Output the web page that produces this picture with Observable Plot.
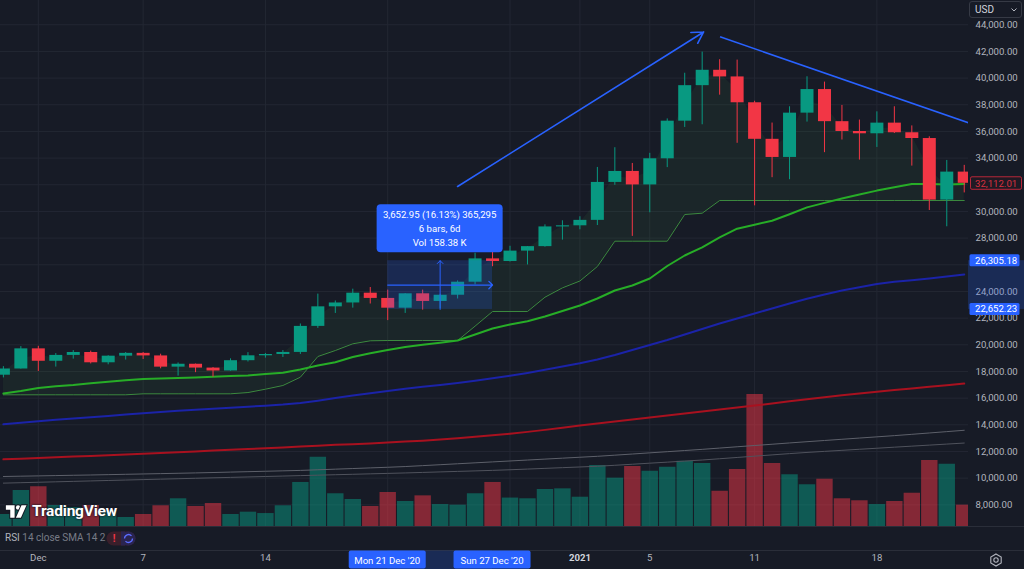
<!DOCTYPE html>
<html><head><meta charset="utf-8">
<script src="https://cdn.jsdelivr.net/npm/d3@7"></script>
<script src="https://cdn.jsdelivr.net/npm/@observablehq/plot@0.6"></script>
<style>
html,body{margin:0;padding:0;background:#171b26;}
#chart{position:relative;width:1024px;height:569px;overflow:hidden;background:#171b26;font-family:Roboto,"Noto Sans",sans-serif;}
.ov{position:absolute;}
</style></head>
<body><div id="chart"></div>
<script>
const FONT = "Roboto, 'Noto Sans', sans-serif";
const BG = "#171b26", GRID = "#232733", AXIS = "#b2b5be";
const UP = "#089981", DOWN = "#f23645";

const dates = ["2020-11-29","2020-11-30","2020-12-01","2020-12-02","2020-12-03","2020-12-04","2020-12-05","2020-12-06","2020-12-07","2020-12-08","2020-12-09","2020-12-10","2020-12-11","2020-12-12","2020-12-13","2020-12-14","2020-12-15","2020-12-16","2020-12-17","2020-12-18","2020-12-19","2020-12-20","2020-12-21","2020-12-22","2020-12-23","2020-12-24","2020-12-25","2020-12-26","2020-12-27","2020-12-28","2020-12-29","2020-12-30","2020-12-31","2021-01-01","2021-01-02","2021-01-03","2021-01-04","2021-01-05","2021-01-06","2021-01-07","2021-01-08","2021-01-09","2021-01-10","2021-01-11","2021-01-12","2021-01-13","2021-01-14","2021-01-15","2021-01-16","2021-01-17","2021-01-18","2021-01-19","2021-01-20","2021-01-21","2021-01-22","2021-01-23"];
const opens = [17719,18185,19696,18765,19205,19422,18651,19147,19359,19166,18324,18541,18254,18036,18808,19175,19274,19427,21380,22847,23137,23870,23478,22745,23824,23250,23716,24694,26443,26246,27025,27362,28840,28923,29331,32176,33000,31989,33950,36769,39433,40586,40088,38150,35410,34049,37372,39141,36733,35995,35824,36623,35901,35468,30852,32950];
const highs = [18360,19863,19888,19342,19566,19527,19177,19420,19420,19294,18639,18557,18292,18948,19411,19349,19570,21560,23800,23285,24171,24295,24102,23838,24100,23789,24789,26867,28422,27389,27370,28995,29300,29600,33300,34778,33600,34360,36939,40365,41950,41380,41350,38264,36628,37850,40100,39700,37950,36852,37469,37850,36415,35600,33826,33456];
const lows = [17517,18180,18001,18330,18925,18565,18500,18857,18902,18200,17650,17911,17572,18020,18711,19000,19050,19278,21230,22350,22750,23060,21815,22353,22600,22703,23435,24500,25856,26207,25987,27320,27850,28624,28946,31962,28130,29900,33288,36300,36500,38720,35111,30420,32531,32380,36701,34408,35357,33850,34800,35844,33400,30071,28850,31390];
const closes = [18185,19696,18765,19205,19422,18651,19147,19359,19166,18324,18541,18254,18036,18808,19175,19274,19427,21380,22847,23137,23870,23478,22745,23824,23250,23716,24694,26443,26246,27025,27362,28840,28923,29331,32176,33000,31989,33950,36769,39433,40586,40088,38150,35410,34049,37372,39141,36733,35995,35824,36623,35901,35468,30852,32950,32112.01];
const volumesK = [11.5,34.4,38.0,20.1,18.2,20.1,15.3,8.6,11.5,19.8,26.5,19.1,22.0,11.5,13.7,12.4,19.8,42.1,66.3,31.3,25.8,19.1,32.5,23.9,29.3,21.0,20.4,31.3,42.1,27.2,26.5,35.4,36.0,28.0,58.3,46.2,57.4,52.9,56.7,62.4,60.2,33.7,54.5,126.2,60.2,49.4,39.9,45.2,26.5,24.6,21.0,23.9,31.8,63.1,59.6,20.4];
const maGreen = [16348,16535,16760,16895,16985,17113,17225,17338,17435,17473,17510,17548,17600,17660,17698,17810,17908,18148,18448,18688,19085,19370,19610,19835,20000,20150,20322,20772,21222,21522,21770,22122,22535,22947,23472,24072,24447,24972,25909,26697,27300,28050,28707,29006,29300,29794,30304,30641,30971,31271,31563,31811,32051,32058,32021,32058];
const maBlue = [14038,14150,14263,14375,14473,14563,14660,14773,14870,14960,15050,15125,15208,15283,15358,15433,15515,15635,15808,16010,16198,16370,16535,16708,16850,16985,17128,17300,17488,17683,17893,18125,18373,18613,18898,19235,19610,19985,20360,20772,21185,21597,21972,22347,22722,23097,23457,23772,24072,24312,24560,24725,24845,24972,25122,25272];
const maRed = [11410,11460,11515,11565,11620,11670,11725,11780,11835,11890,11945,12005,12065,12125,12185,12245,12305,12370,12435,12500,12550,12600,12670,12740,12810,12900,13000,13100,13210,13330,13470,13620,13780,13940,14090,14240,14390,14540,14690,14840,14990,15140,15290,15440,15600,15760,15920,16070,16210,16350,16480,16610,16730,16850,16970,17090];
const maGreyUpper = [10124,10147,10169,10192,10215,10237,10262,10288,10314,10340,10366,10393,10422,10454,10485,10517,10548,10580,10627,10674,10721,10768,10815,10869,10939,11008,11078,11148,11218,11288,11358,11428,11498,11568,11638,11722,11809,11897,11984,12071,12159,12255,12353,12448,12543,12640,12734,12824,12915,13006,13097,13188,13286,13387,13488,13590];
const maGreyLower = [9626,9659,9692,9725,9758,9791,9825,9858,9891,9924,9957,9991,10024,10057,10090,10124,10157,10190,10223,10256,10289,10323,10356,10390,10429,10467,10506,10544,10583,10629,10681,10733,10786,10838,10891,10964,11043,11122,11200,11279,11359,11455,11551,11648,11743,11840,11929,12008,12086,12165,12243,12322,12400,12477,12554,12632];
const superTrend = [16250,16250,16250,16250,16250,16250,16250,16250,16325,16325,16325,16325,16325,16325,16420,16670,16948,17570,19122,19572,20075,20300,20322,20322,20322,20322,20322,21400,22497,22497,22497,23570,24270,24785,25872,27769,27769,27769,27769,29771,29869,30821,30821,30821,30821,30821,30821,30821,30821,30821,30821,30821,30821,30821,30821,30821];

const priceTicks = [8000,10000,12000,14000,16000,18000,20000,22000,24000,26000,28000,30000,32000,34000,36000,38000,40000,42000,44000];
// 26,000 and 32,000 labels are hidden under the marker labels in the reference
const priceLabelTicks = [8000,10000,12000,14000,16000,18000,20000,22000,24000,28000,30000,34000,36000,38000,40000,42000,44000];
const gridDates = ["2020-12-01","2020-12-07","2020-12-14","2020-12-21","2020-12-28","2021-01-01","2021-01-05","2021-01-11","2021-01-18"];
const xTickDates = ["2020-12-01","2020-12-07","2020-12-14","2021-01-05","2021-01-11","2021-01-18"];
const xTickLabels = ["Dec","7","14","5","11","18"];
const yearTick = ["2021-01-01"], yearLabel = "2021";

const measureDates = ["2020-12-21","2020-12-27"];
const measurePrices = [22652.23, 26305.18];
const measureMid = "2020-12-24";
const measureText = ["3,652.95 (16.13%) 365,295", "6 bars, 6d", "Vol 158.38 K"];
const measureDateLabels = ["Mon 21 Dec '20", "Sun 27 Dec '20"];
const lastPrice = 32112.01;
const trendArrow = [{x1:"2020-12-25T00:00Z", y1:31871, x2:"2021-01-08T02:00Z", y2:43460}];
const trendLine = [{x1:"2021-01-09T00:30Z", y1:43100, x2:"2021-01-24T00:00Z", y2:36300}];

const rows = dates.map((d, i) => ({date: new Date(d), open: opens[i], high: highs[i], low: lows[i], close: closes[i],
  vol: volumesK[i], g: maGreen[i], b: maBlue[i], r: maRed[i], gu: maGreyUpper[i], gl: maGreyLower[i], st: superTrend[i]}));
const isUp = d => d.close >= d.open;
const fmt = d3.format(",.2f");

const JAN1 = Date.UTC(2021, 0, 1), DAY = 864e5;
const xOpt = {type: "utc", domain: [new Date(JAN1 - 33.165 * DAY), new Date(JAN1 + 22.244 * DAY)], axis: null};
const yOpt = {type: "linear", domain: [6374, 45819], axis: null};
const base = {width: 1024, height: 569, marginTop: 0, marginRight: 56, marginBottom: 43, marginLeft: 0};

const chart = document.getElementById("chart");
function addLayer(svg) { svg.style.position = "absolute"; svg.style.left = "0"; svg.style.top = "0"; chart.appendChild(svg); }

// layer 1: background grid
addLayer(Plot.plot({...base, style: {background: BG}, x: xOpt, y: yOpt, marks: [
  Plot.gridY(priceTicks, {stroke: GRID, strokeOpacity: 1}),
  Plot.gridX(gridDates.map(d => new Date(d)), {stroke: GRID, strokeOpacity: 1})
]}));

// layer 2: volume
addLayer(Plot.plot({...base, style: {background: "transparent"}, x: xOpt,
  y: {type: "linear", domain: [0, 200], range: [526, 316.8], axis: null},
  marks: [
    Plot.ruleX(rows, {x: "date", y1: 0, y2: "vol", stroke: d => isUp(d) ? "rgba(8,153,129,0.5)" : "rgba(242,54,69,0.5)", strokeWidth: 16.4, clip: true})
  ]}));

// overlay render function for labels/boxes
function overlay(index, scales, values, dims) {
  const sx = scales.x, sy = scales.y;
  const W = dims.width, H = dims.height, fb = H - dims.marginBottom, fr = W - dims.marginRight;
  const g = d3.create("svg:g").attr("font-family", FONT).attr("text-anchor", "start");
  [fb, fb + 24].forEach(yy => g.append("line").attr("x1", 0).attr("x2", W).attr("y1", yy + 0.5).attr("y2", yy + 0.5).attr("stroke", "#2a2e39"));
  // measure info box
  const mx = sx(new Date(measureMid)), mTop = sy(measurePrices[1]);
  const bw = 126, bh = 48, by = mTop - 8 - bh;
  g.append("rect").attr("x", mx - bw / 2).attr("y", by).attr("width", bw).attr("height", bh).attr("rx", 4).attr("fill", "#2962ff");
  measureText.forEach((t, i) => g.append("text").attr("x", mx).attr("y", by + 10.5 + 14 * i).attr("text-anchor", "middle")
    .attr("dominant-baseline", "central").attr("fill", "#ffffff").attr("font-size", 9.6).text(t));
  // axis band + labels
  const yA = sy(measurePrices[1]), yB = sy(measurePrices[0]);
  g.append("rect").attr("x", fr).attr("y", yA).attr("width", W - fr).attr("height", yB - yA).attr("fill", "rgba(41,98,255,0.22)");
  measurePrices.forEach(p => {
    const yy = sy(p);
    g.append("rect").attr("x", fr + 1.5).attr("y", yy - 6).attr("width", 50).attr("height", 12).attr("rx", 1.5).attr("fill", "#2962ff");
    g.append("text").attr("x", fr + 7).attr("y", yy).attr("text-anchor", "start").attr("dominant-baseline", "central").attr("fill", "#fff").attr("font-size", 9.6).text(fmt(p));
  });
  const yl = sy(lastPrice);
  g.append("rect").attr("x", fr + 2.5).attr("y", yl - 6).attr("width", 51).attr("height", 12.5).attr("rx", 1.5).attr("fill", "#1f1a24").attr("stroke", "#b8283a");
  g.append("text").attr("x", fr + 7).attr("y", yl + 0.3).attr("text-anchor", "start").attr("dominant-baseline", "central").attr("fill", "#d8303f").attr("font-size", 9.6).text(fmt(lastPrice));
  // date band + boxes
  const xa = sx(new Date(measureDates[0])), xb = sx(new Date(measureDates[1]));
  g.append("rect").attr("x", xa).attr("y", fb + 24.5).attr("width", xb - xa).attr("height", H - fb - 24).attr("fill", "rgba(41,98,255,0.22)");
  measureDates.forEach((d, i) => {
    const cx = sx(new Date(d)), w = 77;
    g.append("rect").attr("x", cx - w / 2).attr("y", fb + 24.5).attr("width", w).attr("height", 18).attr("rx", 2).attr("fill", "#2962ff");
    g.append("text").attr("x", cx).attr("y", fb + 34).attr("text-anchor", "middle").attr("dominant-baseline", "central").attr("fill", "#fff").attr("font-size", 9.6).text(measureDateLabels[i]);
  });
  return g.node();
}

// layer 3: price
const mid = (measurePrices[0] + measurePrices[1]) / 2;
addLayer(Plot.plot({...base, style: {background: "transparent", fontFamily: FONT}, x: xOpt, y: yOpt, marks: [
  Plot.areaY(rows, {x: "date", y1: "st", y2: d => (d.open + d.close) / 2, fill: "#4caf50", fillOpacity: 0.08, clip: true}),
  Plot.lineY(rows, {x: "date", y: "gl", stroke: "#4f525c", strokeWidth: 1, clip: true}),
  Plot.lineY(rows, {x: "date", y: "gu", stroke: "#5d606a", strokeWidth: 1, clip: true}),
  Plot.lineY(rows, {x: "date", y: "r", stroke: "#a8111f", strokeWidth: 2, clip: true}),
  Plot.lineY(rows, {x: "date", y: "b", stroke: "#1b23a8", strokeWidth: 2, clip: true}),
  Plot.lineY(rows, {x: "date", y: "st", stroke: "#3c8a3f", strokeWidth: 1, clip: true}),
  Plot.lineY(rows, {x: "date", y: "g", stroke: "#27ad27", strokeWidth: 2, clip: true}),
  Plot.ruleX(rows, {x: "date", y1: "low", y2: "high", stroke: d => isUp(d) ? UP : DOWN, strokeWidth: 1, clip: true}),
  Plot.ruleX(rows, {x: "date", y1: "open", y2: "close", stroke: d => isUp(d) ? UP : DOWN, strokeWidth: 13, clip: true}),
  Plot.rect([0], {x1: () => new Date(measureDates[0]), x2: () => new Date(measureDates[1]), y1: () => measurePrices[0], y2: () => measurePrices[1], fill: "#2962ff", fillOpacity: 0.2}),
  Plot.arrow([0], {x1: () => new Date(measureDates[0]), x2: () => new Date(measureDates[1]), y1: () => mid, y2: () => mid, stroke: "#2962ff", strokeWidth: 1.3, headLength: 6, headAngle: 90}),
  Plot.arrow([0], {x1: () => new Date(measureMid), x2: () => new Date(measureMid), y1: () => measurePrices[0], y2: () => measurePrices[1], stroke: "#2962ff", strokeWidth: 1, headLength: 6, headAngle: 90}),
  Plot.arrow(trendArrow, {x1: d => new Date(d.x1), y1: "y1", x2: d => new Date(d.x2), y2: "y2", stroke: "#2962ff", strokeWidth: 1.6, headLength: 12, headAngle: 60}),
  Plot.link(trendLine, {x1: d => new Date(d.x1), y1: "y1", x2: d => new Date(d.x2), y2: "y2", stroke: "#2962ff", strokeWidth: 1.6, clip: true}),
  Plot.text(priceLabelTicks, {y: d => d, frameAnchor: "right", dx: 7, textAnchor: "start", text: d => fmt(d), fill: AXIS, fontSize: 9.6}),
  Plot.text(xTickDates, {x: d => new Date(d), frameAnchor: "bottom", dy: 34, text: (d, i) => xTickLabels[i], fill: AXIS, fontSize: 9.6}),
  Plot.text(yearTick, {x: d => new Date(d), frameAnchor: "bottom", dy: 34, text: () => yearLabel, fill: "#d1d4dc", fontSize: 9.6, fontWeight: "bold"}),
  overlay
]}));

// HTML overlays: logo, RSI label, currency box, settings icon
chart.insertAdjacentHTML("beforeend", `
<div class="ov" style="left:5px;top:502px;display:flex;align-items:center;gap:4px;">
  <svg width="23" height="15" viewBox="0 0 36 24"><g fill="#fff" stroke="#131722" stroke-width="3" paint-order="stroke">
    <path d="M1 2H15V22H8V9H1Z"/><circle cx="20.5" cy="5.5" r="3.5"/><path d="M17 22L26 2H34L25 22Z"/></g></svg>
  <span style="font:700 15.5px Roboto,sans-serif;color:#fff;letter-spacing:-0.2px;text-shadow:0 0 2px #131722,0 0 2px #131722;">TradingView</span>
</div>
<div class="ov" style="left:5px;top:531px;font:10px Roboto,sans-serif;color:#787b86;line-height:14px;white-space:nowrap;">
  <span style="color:#b2b5be">RSI</span> 14 close SMA 14 2</div>
<svg class="ov" style="left:106px;top:531px" width="30" height="15">
  <rect x="0.5" y="0.5" width="29" height="14" rx="7" fill="#3a1f2b"/>
  <rect x="15" y="0.5" width="14.5" height="14" rx="7" fill="#2a2450"/>
  <rect x="15" y="0.5" width="4" height="14" fill="#2a2450"/>
  <text x="8" y="11" text-anchor="middle" fill="#f23645" font-size="10" font-family="Roboto" font-weight="bold">!</text>
  <path d="M18.5 7.5a4 4 0 0 1 7-2.6M26.5 7.5a4 4 0 0 1-7 2.6" fill="none" stroke="#5b6cff" stroke-width="1.3"/>
</svg>
<div class="ov" style="left:969px;top:1px;width:53px;height:17px;box-sizing:border-box;border:1px solid #363a45;border-radius:3px;font:10px Roboto,sans-serif;color:#d1d4dc;line-height:15px;padding-left:5px;">USD
  <svg style="position:absolute;right:4px;top:6px" width="6" height="4"><path d="M0.5 0.5L3 3L5.5 0.5" fill="none" stroke="#b2b5be"/></svg></div>
<svg class="ov" style="left:989px;top:553px" width="14" height="14">
  <path d="M7 1L12.2 4V10L7 13L1.8 10V4Z" fill="none" stroke="#b2b5be" stroke-width="1.1"/>
  <circle cx="7" cy="7" r="2.2" fill="none" stroke="#b2b5be" stroke-width="1.1"/></svg>
`);
</script>
</body></html>
